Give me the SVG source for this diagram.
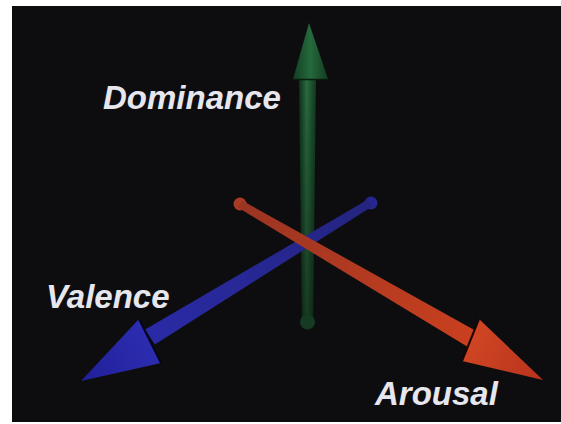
<svg xmlns="http://www.w3.org/2000/svg" width="561" height="424" viewBox="0 0 561 424">
<defs>
<style>
.lbl{font-family:"Liberation Sans",Arial,sans-serif;font-weight:bold;font-style:italic;font-size:33px;fill:#e6e6ee}
</style>
<linearGradient id="gShaft" x1="0" y1="0" x2="1" y2="0">
<stop offset="0" stop-color="#0c3018"/><stop offset="0.45" stop-color="#2b6b40"/><stop offset="1" stop-color="#0e3a1e"/>
</linearGradient>
<linearGradient id="gFade" x1="0" y1="0" x2="0" y2="1">
<stop offset="0" stop-color="#000" stop-opacity="0"/><stop offset="1" stop-color="#000" stop-opacity="0.45"/>
</linearGradient>
<linearGradient id="gCone" x1="0" y1="0" x2="1" y2="0">
<stop offset="0" stop-color="#123e22"/><stop offset="0.5" stop-color="#256a3c"/><stop offset="1" stop-color="#123c20"/>
</linearGradient>
<linearGradient id="rShaft" gradientUnits="userSpaceOnUse" x1="240" y1="204" x2="472" y2="338">
<stop offset="0" stop-color="#9a3422"/><stop offset="1" stop-color="#c9401f"/>
</linearGradient>
<linearGradient id="bShaft" gradientUnits="userSpaceOnUse" x1="370" y1="203" x2="150" y2="338">
<stop offset="0" stop-color="#242480"/><stop offset="1" stop-color="#2a2aa6"/>
</linearGradient>
<linearGradient id="rCone" gradientUnits="userSpaceOnUse" x1="470" y1="340" x2="543" y2="380">
<stop offset="0" stop-color="#d04624"/><stop offset="1" stop-color="#b8321c"/>
</linearGradient>
<linearGradient id="bCone" gradientUnits="userSpaceOnUse" x1="150" y1="341" x2="81" y2="381">
<stop offset="0" stop-color="#2c2cb0"/><stop offset="1" stop-color="#20209a"/>
</linearGradient>
</defs>
<rect x="0" y="0" width="561" height="424" fill="#ffffff"/>
<rect x="12" y="6" width="549" height="416" fill="#0d0d0f"/>
<g id="connectors">
<g id="dominance-axis">
<polygon points="299,80 316,80 313,322 302,322" fill="url(#gShaft)"/>
<polygon points="299,80 316,80 313,322 302,322" fill="url(#gFade)"/>
<circle cx="307.5" cy="322" r="7.5" fill="#163a22"/>
<polygon points="309,23 328,79 293,79" fill="url(#gCone)"/>
<line x1="293" y1="79.5" x2="328" y2="79.5" stroke="#0a1e10" stroke-width="1.5"/>
</g>
<g id="valence-axis">
<circle cx="371" cy="203" r="6.5" fill="#262690"/>
<polygon points="372.1,206.4 367.9,199.6 145.2,329.4 154.8,344.6" fill="url(#bShaft)"/>
<polygon points="139,319 161,363 81,381" fill="url(#bCone)"/>
<line x1="139" y1="319" x2="161" y2="363" stroke="#05051a" stroke-width="2"/>
</g>
<g id="arousal-axis">
<circle cx="240" cy="204" r="6.5" fill="#a83a26"/>
<polygon points="238,207.5 242,200.5 476.5,331.2 467.5,346.8" fill="url(#rShaft)"/>
<polygon points="479,319 462,361 543,380" fill="url(#rCone)"/>
<line x1="479" y1="319" x2="462" y2="361" stroke="#1a0502" stroke-width="2"/>
</g>
</g>
<g id="dominance"><text class="lbl" x="103" y="109">Dominance</text></g>
<g id="valence"><text class="lbl" x="46" y="308">Valence</text></g>
<g id="arousal"><text class="lbl" x="375" y="405">Arousal</text></g>
</svg>
